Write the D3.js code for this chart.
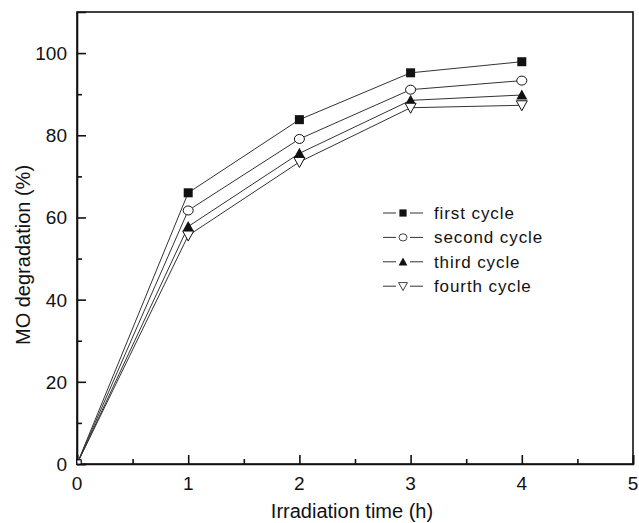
<!DOCTYPE html>
<html>
<head>
<meta charset="utf-8">
<script src="https://cdn.jsdelivr.net/npm/d3@7"></script>
<style>
  body { margin: 0; background: #fff; }
  text { font-family: "Liberation Sans", Arial, sans-serif; fill: #111; }
</style>
</head>
<body>
<svg id="chart" width="639" height="523"></svg>
<script>
var hours = [0, 1, 2, 3, 4];
var seriesNames = ["first cycle", "second cycle", "third cycle", "fourth cycle"];
var firstCycle = [0, 66, 83.8, 95.2, 97.9];
var secondCycle = [0, 61.7, 79.1, 91.1, 93.3];
var thirdCycle = [0, 57.8, 75.6, 88.5, 89.8];
var fourthCycle = [0, 55.6, 73.5, 86.7, 87.3];
var xTicks = [0, 1, 2, 3, 4, 5];
var yTicks = [0, 20, 40, 60, 80, 100];

var svg = d3.select("#chart"),
    margin = {top: 12, right: 6, bottom: 59, left: 77},
    width = svg.attr("width") - margin.left - margin.right,
    height = svg.attr("height") - margin.top - margin.bottom,
    g = svg.append("g").attr("transform", "translate(" + margin.left + "," + margin.top + ")");

var x = d3.scaleLinear().domain([0, 5]).range([0, width]);
var y = d3.scaleLinear().domain([0, 110]).range([height, 0]);

var series = [firstCycle, secondCycle, thirdCycle, fourthCycle];
var shapes = ["square", "circle", "up", "down"];

var line = d3.line()
    .x(function(d, i) { return x(hours[i]); })
    .y(function(d) { return y(d); });

// frame
g.append("rect")
    .attr("width", width)
    .attr("height", height)
    .attr("fill", "none")
    .attr("stroke", "#111")
    .attr("stroke-width", 1.6);

// x axis, ticks pointing inward
var xAxis = g.append("g")
    .attr("transform", "translate(0," + height + ")")
    .call(d3.axisBottom(x).tickValues(d3.range(0, 5.01, 0.5)).tickSize(-9).tickFormat(""));
xAxis.selectAll(".tick line").attr("stroke", "#111").attr("stroke-width", 1.6)
    .attr("y2", function(d) { return d % 1 === 0 ? -9 : -5; });
xAxis.select(".domain").attr("stroke", "#111").attr("stroke-width", 1.6);

g.selectAll(".xlab").data(xTicks).enter().append("text")
    .attr("x", function(d) { return x(d); })
    .attr("y", height + 26)
    .attr("text-anchor", "middle")
    .style("font-size", "19px")
    .text(function(d) { return d; });

// y axis
var yAxis = g.append("g")
    .call(d3.axisLeft(y).tickValues(d3.range(0, 101, 10)).tickSize(-9).tickFormat(""));
yAxis.selectAll(".tick line").attr("stroke", "#111").attr("stroke-width", 1.6)
    .attr("x2", function(d) { return d % 20 === 0 ? 9 : 5; });
yAxis.select(".domain").attr("stroke", "#111").attr("stroke-width", 1.6);

g.selectAll(".ylab").data(yTicks).enter().append("text")
    .attr("x", -10)
    .attr("y", function(d) { return y(d) + 7; })
    .attr("text-anchor", "end")
    .style("font-size", "19px")
    .text(function(d) { return d; });

// axis titles
svg.append("text")
    .attr("x", 352)
    .attr("y", 518)
    .attr("text-anchor", "middle")
    .style("font-size", "20px")
    .text("Irradiation time (h)");

svg.append("text")
    .attr("transform", "translate(30,255) rotate(-90)")
    .attr("text-anchor", "middle")
    .style("font-size", "20px")
    .text("MO degradation (%)");

function marker(sel, shape) {
  if (shape === "square") {
    sel.append("rect").attr("x", -4.5).attr("y", -4.5).attr("width", 9).attr("height", 9)
      .attr("fill", "#111");
  } else if (shape === "circle") {
    sel.append("ellipse").attr("rx", 5).attr("ry", 4.5)
      .attr("fill", "#fff").attr("stroke", "#111").attr("stroke-width", 1);
  } else if (shape === "up") {
    sel.append("path").attr("d", "M0,-5.5L5.5,4.5L-5.5,4.5Z").attr("fill", "#111");
  } else {
    sel.append("path").attr("d", "M0,5.5L5.5,-4.5L-5.5,-4.5Z")
      .attr("fill", "#fff").attr("stroke", "#111").attr("stroke-width", 1);
  }
}

series.forEach(function(vals, s) {
  g.append("path")
      .datum(vals)
      .attr("fill", "none")
      .attr("stroke", "#333")
      .attr("stroke-width", 1)
      .attr("d", line);

  vals.forEach(function(v, i) {
    var m = g.append("g").attr("transform", "translate(" + x(hours[i]) + "," + y(v) + ")");
    if (i === 0) {
      m.append("rect").attr("x", 0).attr("y", -4).attr("width", 4).attr("height", 4)
        .attr("fill", "#fff").attr("stroke", "#111").attr("stroke-width", 0.8);
    } else {
      marker(m, shapes[s]);
    }
  });
});

// legend
var legend = svg.append("g").attr("transform", "translate(383,213)");
seriesNames.forEach(function(name, i) {
  var row = legend.append("g").attr("transform", "translate(0," + (i * 24.4) + ")");
  row.append("line").attr("x1", 0).attr("x2", 40).attr("stroke", "#333").attr("stroke-width", 1);
  var m = row.append("g").attr("transform", "translate(20,0)");
  m.append("rect").attr("x", -7).attr("y", -5).attr("width", 14).attr("height", 10).attr("fill", "#fff");
  var mm = m.append("g").attr("transform", "scale(0.8)");
  marker(mm, shapes[i]);
  row.append("text")
      .attr("x", 51)
      .attr("y", 6)
      .style("font-size", "17px")
      .style("letter-spacing", "0.9px")
      .text(name);
});
</script>
</body>
</html>
